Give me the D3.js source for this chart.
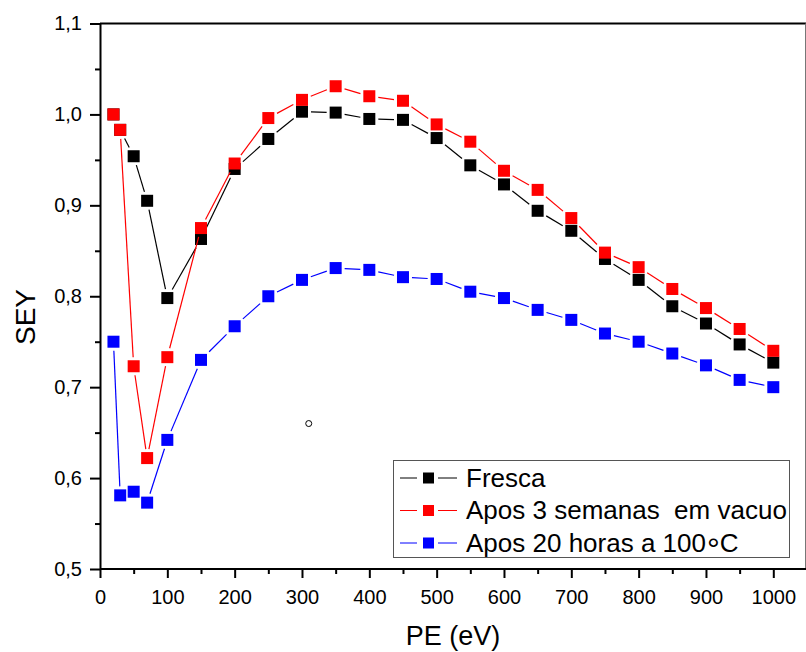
<!DOCTYPE html>
<html>
<head>
<meta charset="utf-8">
<script src="https://cdn.jsdelivr.net/npm/d3@7"></script>
<style>
  body { margin: 0; background: #fff; }
  svg text { font-family: "Liberation Sans", Arial, Helvetica, sans-serif; }
</style>
</head>
<body>
<div id="chart"></div>
<script>
// energies (eV)
var pe = [20, 30, 50, 70, 100, 150, 200, 250, 300, 350, 400, 450, 500, 550, 600, 650, 700, 750, 800, 850, 900, 950, 1000];

var fresca = [1.000, 0.983, 0.954, 0.905, 0.798, 0.863, 0.940, 0.973, 1.003, 1.002, 0.995, 0.994, 0.974,
  0.944, 0.923, 0.894, 0.872, 0.841, 0.818, 0.789, 0.770, 0.747, 0.727];
var vacuo = [1.000, 0.983, 0.723, 0.622, 0.733, 0.875, 0.946, 0.996, 1.016, 1.031, 1.020, 1.015, 0.989,
  0.970, 0.938, 0.917, 0.886, 0.848, 0.832, 0.808, 0.787, 0.764, 0.740];
var aquecido = [0.750, 0.581, 0.585, 0.573, 0.642, 0.730, 0.767, 0.800, 0.818, 0.831, 0.829, 0.821, 0.819,
  0.805, 0.798, 0.785, 0.774, 0.759, 0.750, 0.737, 0.724, 0.708, 0.700];

// legend labels; the last one is split to draw the degree ring
var seriesNames = [["Fresca"], ["Apos 3 semanas  em vacuo"], ["Apos 20 horas a 100", "\u00B0", "C"]];
var seriesColors = ["#000000", "#ff0000", "#0000ff"];

var xTicks = [0, 100, 200, 300, 400, 500, 600, 700, 800, 900, 1000];
var yTicks = [0.5, 0.6, 0.7, 0.8, 0.9, 1.0, 1.1];

// stray little circle in the original
var stray = [310, 0.66];

var svgWidth = 806, svgHeight = 652;
var margin = { top: 23.5, left: 100, bottom: 83 };
var FONT = "'Liberation Sans', Arial, Helvetica, sans-serif";

var svg = d3.select("#chart").append("svg")
  .attr("width", svgWidth)
  .attr("height", svgHeight)
  .attr("font-family", FONT);

var x = d3.scaleLinear().domain([0, 1050]).range([margin.left, margin.left + 1050 * 0.6733]);
var y = d3.scaleLinear().domain([0.5, 1.1]).range([569, margin.top]);

var fmt = function(d) { return d3.format(".1f")(d).replace(".", ","); };

// frame top + right
svg.append("line")
  .attr("x1", x(0)).attr("x2", svgWidth)
  .attr("y1", y(1.1)).attr("y2", y(1.1))
  .attr("stroke", "#000").attr("stroke-width", 2);
svg.append("line")
  .attr("x1", 805.5).attr("x2", 805.5)
  .attr("y1", y(1.1)).attr("y2", y(0.5))
  .attr("stroke", "#777").attr("stroke-width", 1);

// minor ticks
svg.append("g")
  .attr("transform", "translate(0," + y(0.5) + ")")
  .call(d3.axisBottom(x).tickValues(d3.range(50, 1050, 100)).tickSize(5).tickFormat(""))
  .call(g => g.select(".domain").remove())
  .call(g => g.selectAll("line").attr("stroke-width", 2));
svg.append("g")
  .attr("transform", "translate(" + x(0) + ",0)")
  .call(d3.axisLeft(y).tickValues([0.55, 0.65, 0.75, 0.85, 0.95, 1.05]).tickSize(5).tickFormat(""))
  .call(g => g.select(".domain").remove())
  .call(g => g.selectAll("line").attr("stroke-width", 2));

// major axes
var xAxis = svg.append("g")
  .attr("transform", "translate(0," + y(0.5) + ")")
  .call(d3.axisBottom(x).tickValues(xTicks).tickSize(9).tickSizeOuter(0).tickPadding(12).tickFormat(d3.format("d")));
var yAxis = svg.append("g")
  .attr("transform", "translate(" + x(0) + ",0)")
  .call(d3.axisLeft(y).tickValues(yTicks).tickSize(10).tickSizeOuter(0).tickPadding(8).tickFormat(fmt));

[xAxis, yAxis].forEach(function(a) {
  a.attr("font-family", FONT).attr("font-size", 20);
  a.select(".domain").attr("stroke-width", 2);
  a.selectAll("line").attr("stroke-width", 2);
  a.selectAll("text").attr("fill", "#000");
});
xAxis.select(".domain").attr("d", "M" + x(0) + ",0H" + svgWidth);

// axis titles
svg.append("text")
  .attr("x", 453).attr("y", 645)
  .attr("text-anchor", "middle")
  .attr("font-size", 27)
  .text("PE (eV)");
svg.append("text")
  .attr("transform", "translate(35,317) rotate(-90)")
  .attr("text-anchor", "middle")
  .attr("font-size", 28)
  .text("SEY");

// lines with gaps around the markers
var msize = 12, gap = 3;
function segments(vals) {
  var segs = [];
  for (var i = 0; i < pe.length - 1; i++) {
    var x1 = x(pe[i]), y1 = y(vals[i]), x2 = x(pe[i + 1]), y2 = y(vals[i + 1]);
    var dx = x2 - x1, dy = y2 - y1, len = Math.sqrt(dx * dx + dy * dy);
    var ux = dx / len, uy = dy / len;
    var cut = (msize / 2) / Math.max(Math.abs(ux), Math.abs(uy)) + gap;
    if (len > 2 * cut) segs.push([x1 + ux * cut, y1 + uy * cut, x2 - ux * cut, y2 - uy * cut]);
  }
  return segs;
}

var allSeries = [fresca, vacuo, aquecido];
allSeries.forEach(function(vals, k) {
  var g = svg.append("g");
  g.selectAll("line").data(segments(vals)).enter().append("line")
    .attr("x1", d => d[0]).attr("y1", d => d[1])
    .attr("x2", d => d[2]).attr("y2", d => d[3])
    .attr("stroke", seriesColors[k]).attr("stroke-width", 1.2);
  g.selectAll("rect").data(vals).enter().append("rect")
    .attr("x", (d, i) => x(pe[i]) - msize / 2)
    .attr("y", d => y(d) - msize / 2)
    .attr("width", msize).attr("height", msize)
    .attr("fill", seriesColors[k]);
});

svg.append("circle")
  .attr("cx", x(stray[0])).attr("cy", y(stray[1]))
  .attr("r", 3).attr("fill", "none").attr("stroke", "#000").attr("stroke-width", 1);

// legend
var legend = svg.append("g");
legend.append("rect")
  .attr("x", 393.5).attr("y", 460.5)
  .attr("width", 396).attr("height", 97)
  .attr("fill", "#fff").attr("stroke", "#555").attr("stroke-width", 1);
seriesNames.forEach(function(parts, k) {
  var cy = 478 + k * 32.5;
  var row = legend.append("g");
  row.append("line").attr("x1", 400).attr("x2", 417).attr("y1", cy).attr("y2", cy)
    .attr("stroke", seriesColors[k]).attr("stroke-width", 1);
  row.append("line").attr("x1", 438).attr("x2", 457).attr("y1", cy).attr("y2", cy)
    .attr("stroke", seriesColors[k]).attr("stroke-width", 1);
  row.append("rect").attr("x", 423).attr("y", cy - 5.5).attr("width", 11).attr("height", 11)
    .attr("fill", seriesColors[k]);
  var t = row.append("text").attr("x", 466).attr("y", cy + 8.5)
    .attr("font-size", 26)
    .style("white-space", "pre");
  t.append("tspan").text(parts[0]);
  if (parts.length > 1) {
    t.append("tspan").attr("dy", 8).attr("dx", 1).attr("font-size", 32).text(parts[1]);
    t.append("tspan").attr("dy", -8).attr("dx", 0).text(parts[2]);
  }
});
</script>
</body>
</html>
